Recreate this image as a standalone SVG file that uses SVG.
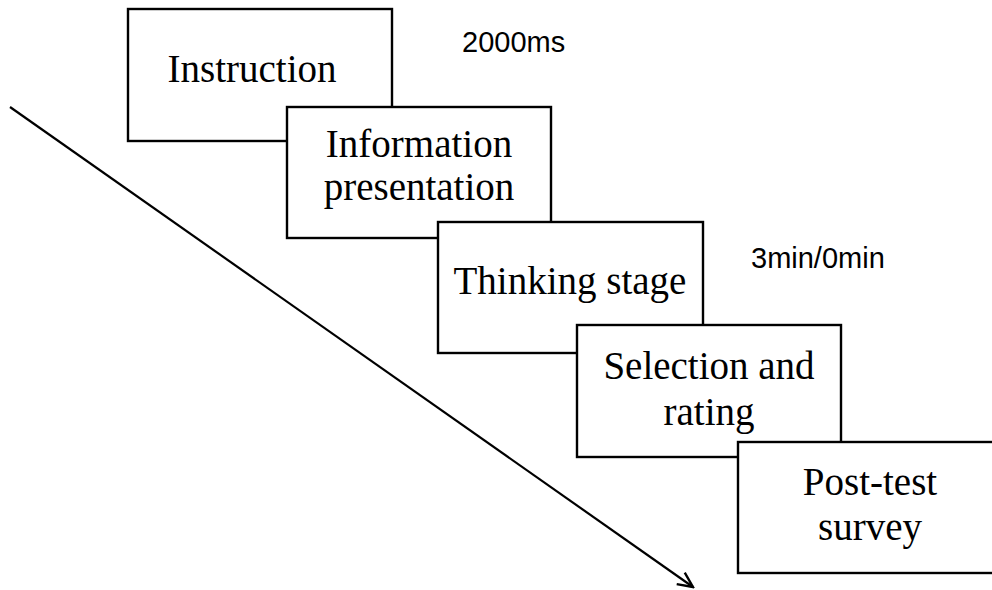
<svg xmlns="http://www.w3.org/2000/svg" width="992" height="590" viewBox="0 0 992 590">
  <style>
    .box { fill: #ffffff; stroke: #000000; stroke-width: 2.4; }
    .lbl { font-family: "Liberation Serif", "Times New Roman", serif; font-size: 39px; fill: #000000; text-anchor: middle; }
    .note { font-family: "Liberation Sans", Arial, sans-serif; font-size: 29px; fill: #000000; }
    .conn { stroke: #000000; stroke-width: 2.2; fill: none; }
  </style>
  <defs>
    <marker id="arrow" viewBox="0 0 20 20" refX="18" refY="10" markerWidth="20" markerHeight="20" markerUnits="userSpaceOnUse" orient="auto">
      <path d="M3,3 L18,10 L3,17" fill="none" stroke="#000000" stroke-width="2.4"/>
    </marker>
  </defs>
  <rect width="992" height="590" fill="#ffffff"/>
  <g id="connectors">
    <line class="conn" x1="10" y1="107" x2="693" y2="587" marker-end="url(#arrow)"/>
  </g>
  <g id="node-instruction">
    <rect class="box" x="128" y="9" width="264" height="132"/>
    <text class="lbl" x="252" y="82">Instruction</text>
  </g>
  <g id="node-information">
    <rect class="box" x="287" y="107" width="264" height="131"/>
    <text class="lbl" x="419" y="157">Information</text>
    <text class="lbl" x="419" y="200">presentation</text>
  </g>
  <g id="node-thinking">
    <rect class="box" x="438" y="222" width="265" height="131"/>
    <text class="lbl" x="570" y="294">Thinking stage</text>
  </g>
  <g id="node-selection">
    <rect class="box" x="577" y="325" width="264" height="132"/>
    <text class="lbl" x="709" y="379">Selection and</text>
    <text class="lbl" x="709" y="425">rating</text>
  </g>
  <g id="node-posttest">
    <rect class="box" x="738" y="442" width="264" height="131"/>
    <text class="lbl" x="870" y="495">Post-test</text>
    <text class="lbl" x="870" y="540">survey</text>
  </g>
  <g id="notes">
    <text class="note" x="462" y="52">2000ms</text>
    <text class="note" x="751" y="268">3min/0min</text>
  </g>
</svg>
